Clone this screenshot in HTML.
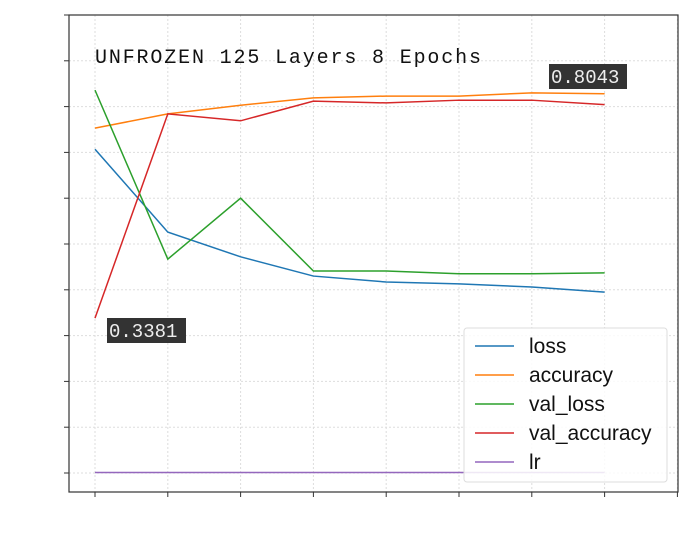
<!DOCTYPE html>
<html><head><meta charset="utf-8"><style>
body{margin:0;background:#fff;}
svg{display:block;}
</style></head><body>
<svg id="chart" width="690" height="548" xmlns="http://www.w3.org/2000/svg">
<rect x="0" y="0" width="690" height="548" fill="#fff"/>
<g id="grid"></g>
<g id="lines"></g>
<rect x="69" y="15" width="609" height="477" fill="none" stroke="#333" stroke-width="1.2"/>
<g id="ticks"></g>
<text x="95" y="63" font-family="'Liberation Mono', monospace" font-size="20" textLength="386" lengthAdjust="spacing" fill="#111">UNFROZEN 125 Layers 8 Epochs</text>
<g id="annots"></g>
<g>
<rect x="464" y="328" width="203" height="154" rx="3" fill="#fff" fill-opacity="0.85" stroke="#ddd"/>
<g id="legend-items"></g>
</g>
</svg>
<script>
const epochs=[0,1,2,3,4,5,6,7];
const loss=[0.707,0.526,0.472,0.430,0.417,0.413,0.406,0.395];
const accuracy=[0.753,0.784,0.803,0.819,0.823,0.823,0.830,0.828];
const valLoss=[0.836,0.467,0.600,0.441,0.441,0.435,0.435,0.437];
const valAccuracy=[0.3381,0.784,0.769,0.812,0.808,0.814,0.814,0.8043];
const lr=[0.001,0.001,0.001,0.001,0.001,0.001,0.001,0.001];
const yTicks=[0,0.1,0.2,0.3,0.4,0.5,0.6,0.7,0.8,0.9,1.0];
const xTicks=[0,1,2,3,4,5,6,7,8];
const seriesNames=["loss","accuracy","val_loss","val_accuracy","lr"];
const NS="http://www.w3.org/2000/svg";
function X(v){return 95+v*72.8;}
function Y(v){return 473-v*458;}
function mk(tag,attrs,parent){const e=document.createElementNS(NS,tag);for(const k in attrs)e.setAttribute(k,attrs[k]);parent.appendChild(e);return e;}
const grid=document.getElementById('grid'),ticks=document.getElementById('ticks');
yTicks.forEach(t=>{
 const g=mk('line',{x1:69,x2:678,y1:Y(t),y2:Y(t),stroke:'#ddd','stroke-dasharray':'2,2','stroke-width':1},grid);
 
 
 const tk=mk('line',{x1:64,x2:69,y1:Y(t),y2:Y(t),stroke:'#333'},ticks);
 
 
});
xTicks.forEach(t=>{
 const g=mk('line',{x1:X(t),x2:X(t),y1:15,y2:492,stroke:'#ddd','stroke-dasharray':'2,2','stroke-width':1},grid);
 
 
 const tk=mk('line',{x1:X(t),x2:X(t),y1:492,y2:497,stroke:'#333'},ticks);
 
 
});
const colors=['#1f77b4','#ff7f0e','#2ca02c','#d62728','#9467bd'];
const all=[loss,accuracy,valLoss,valAccuracy,lr];
const lines=document.getElementById('lines');
all.forEach((s,i)=>{
 const p=mk('polyline',{points:s.map((v,j)=>X(epochs[j])+','+Y(v)).join(' '),fill:'none',stroke:colors[i],'stroke-width':1.5},lines);
 
 
});
const annots=document.getElementById('annots');
function annot(txt,x,y,w){
 const g=mk('g',{},annots);
 
 
 mk('rect',{x:x,y:y,width:w,height:25,fill:'#333'},g);
 const t=mk('text',{x:x+2,y:y+19,'font-family':"'Liberation Mono', monospace",'font-size':19,fill:'#eee'},g);
 t.textContent=txt;
}
annot(valAccuracy[0].toFixed(4),107,318,79);
annot(valAccuracy[7].toFixed(4),549,64,78);
const li=document.getElementById('legend-items');
seriesNames.forEach((n,i)=>{
 const y=346+i*29;
 const g=mk('g',{},li);
 
 
 mk('line',{x1:475,x2:514,y1:y,y2:y,stroke:colors[i],'stroke-width':1.5},g);
 const t=mk('text',{x:529,y:y+7,'font-family':"'Liberation Sans', sans-serif",'font-size':21,fill:'#111'},g);
 t.textContent=n;
});
</script>
</body></html>
